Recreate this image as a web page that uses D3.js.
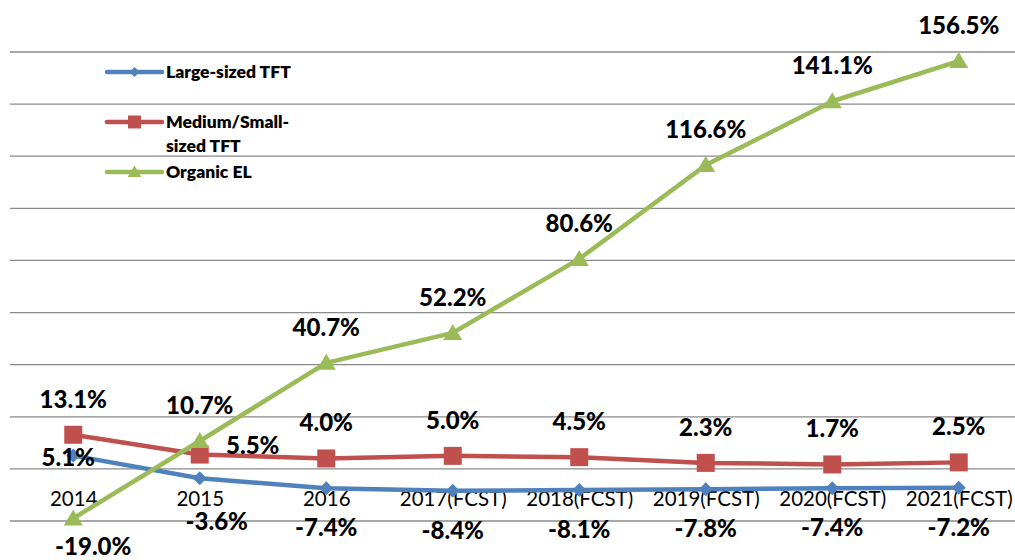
<!DOCTYPE html>
<html>
<head>
<meta charset="utf-8">
<script src="https://cdn.jsdelivr.net/npm/d3@7"></script>
<style>
  html, body { margin: 0; padding: 0; background: #fff; }
  svg { display: block; }
</style>
</head>
<body>
<svg id="chart" width="1015" height="560"></svg>
<script>
// ---- data ----
const categories = ["2014", "2015", "2016", "2017(FCST)", "2018(FCST)", "2019(FCST)", "2020(FCST)", "2021(FCST)"];
const seriesNames = ["Large-sized TFT", "Medium/Small-sized TFT", "Organic EL"];
const largeTFT = [5.1, -3.6, -7.4, -8.4, -8.1, -7.8, -7.4, -7.2];
const mediumSmallTFT = [13.1, 5.5, 4.0, 5.0, 4.5, 2.3, 1.7, 2.5];
const organicEL = [-19.0, 10.7, 40.7, 52.2, 80.6, 116.6, 141.1, 156.5];
const yTicks = [-20, 0, 20, 40, 60, 80, 100, 120, 140, 160];

// label placement names (style)
const largePlacement = ["center", "belowRight", "below", "below", "below", "below", "below", "below"];
const mediumPlacement = ["above", "right", "above", "above", "above", "above", "above", "above"];
const organicPlacement = ["belowRight2", "above", "above", "above", "above", "above", "above", "above"];

const placementOffsets = {
  above: [0, -27],
  below: [0, 48],
  right: [53, -1],
  center: [-5, 10],
  belowRight: [17, 52],
  belowRight2: [20, 37]
};

const svg = d3.select("#chart");
const x = d3.scalePoint().domain(categories).range([10, 1022]).padding(0.5);
const y = d3.scaleLinear().domain([-20, 160]).range([521, 52]);

// gridlines
svg.append("g").selectAll("line").data(yTicks).join("line")
  .attr("x1", 10).attr("x2", 1015)
  .attr("y1", d => y(d)).attr("y2", d => y(d))
  .attr("stroke", "#8a8a8a").attr("stroke-width", 1.3);

// category axis at zero
const axis = svg.append("g")
  .attr("transform", `translate(0,${y(0)})`)
  .call(d3.axisBottom(x).tickSize(0).tickPadding(23));
axis.select(".domain").remove();
axis.selectAll("text")
  .attr("font-family", "Lato, sans-serif")
  .attr("font-size", 20.5)
  .attr("fill", "#000");

const series = [
  { name: seriesNames[0], values: largeTFT, color: "#4F81BD", marker: "diamond", placement: largePlacement },
  { name: seriesNames[1], values: mediumSmallTFT, color: "#C0504D", marker: "square", placement: mediumPlacement },
  { name: seriesNames[2], values: organicEL, color: "#9BBB59", marker: "triangle", placement: organicPlacement }
];

function markerPath(type) {
  if (type === "diamond") return "M0,-7L7,0L0,7L-7,0Z";
  if (type === "square") return "M-9,-9H9V9H-9Z";
  return "M0,-9L9.5,7L-9.5,7Z";
}

const line = d3.line()
  .x((d, i) => x(categories[i]))
  .y(d => y(d));

series.forEach(s => {
  const g = svg.append("g");
  g.append("path")
    .attr("d", line(s.values))
    .attr("fill", "none")
    .attr("stroke", s.color)
    .attr("stroke-width", 4.5)
    .attr("stroke-linejoin", "round");
  g.selectAll("path.m").data(s.values).join("path")
    .attr("class", "m")
    .attr("d", markerPath(s.marker))
    .attr("transform", (d, i) => `translate(${x(categories[i])},${y(d)})`)
    .attr("fill", s.color);
});

// data labels
series.forEach(s => {
  svg.append("g").selectAll("text").data(s.values).join("text")
    .attr("x", (d, i) => x(categories[i]) + placementOffsets[s.placement[i]][0])
    .attr("y", (d, i) => y(d) + placementOffsets[s.placement[i]][1])
    .attr("text-anchor", "middle")
    .attr("font-family", "Lato, sans-serif")
    .attr("font-weight", 900)
    .attr("font-size", 24)
    .attr("fill", "#000")
    .text(d => d.toFixed(1) + "%");
});

// legend
const legendItems = [
  { lines: ["Large-sized TFT"], y: 72 },
  { lines: ["Medium/Small-", "sized TFT"], y: 122 },
  { lines: ["Organic EL"], y: 172 }
];
legendItems.forEach((item, k) => {
  const s = series[k];
  const g = svg.append("g");
  g.append("line")
    .attr("x1", 107).attr("x2", 162)
    .attr("y1", item.y).attr("y2", item.y)
    .attr("stroke", s.color).attr("stroke-width", 4.5).attr("stroke-linecap", "round");
  g.append("path")
    .attr("d", markerPath(s.marker))
    .attr("transform", `translate(134.5,${item.y}) scale(0.72)`)
    .attr("fill", s.color);
  item.lines.forEach((t, j) => {
    g.append("text")
      .attr("x", 166)
      .attr("y", item.y + 6 + j * 24)
      .attr("font-family", "Lato, sans-serif")
      .attr("font-weight", 800)
      .attr("font-size", 17.5)
      .attr("fill", "#000")
      .text(t);
  });
});
</script>
</body>
</html>
